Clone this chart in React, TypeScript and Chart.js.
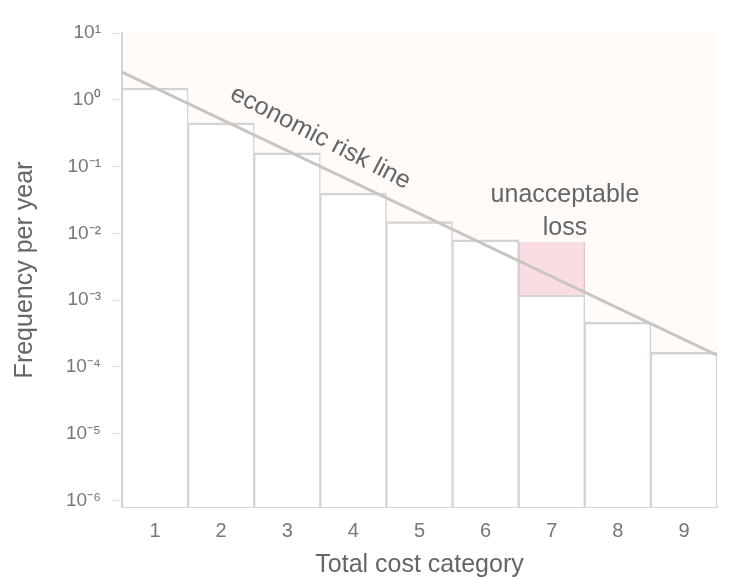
import React, { useEffect, useRef } from "react";
import { Chart, registerables } from "chart.js";

Chart.register(...registerables);

// ---- data ----
const categories = ["1", "2", "3", "4", "5", "6", "7", "8", "9"];
const frequencies = [1.5, 0.45, 0.16, 0.04, 0.015, 0.008, 0.0012, 0.00047, 0.000165];
const unacceptableLoss = [null, null, null, null, null, null, [0.0012, 0.0074], null, null];
const riskLineX = [0.5, 9.5];
const riskLineY = [2.6, 0.00015];
const yTickValues = [10, 1, 0.1, 0.01, 0.001, 0.0001, 0.00001, 0.000001];
const yTickLabels = ["10¹", "10⁰", "10⁻¹", "10⁻²", "10⁻³", "10⁻⁴", "10⁻⁵", "10⁻⁶"];
const riskLabel = "economic risk line";
const riskLabelAt = [3.5, 0.27];
const lossLabel = ["unacceptable", "loss"];
const lossLabelAt = [7.2, 0.037, 0.012];

const FONT = "'Liberation Sans', Arial, Helvetica, sans-serif";

const annotationPlugin = {
  id: "annotations",
  beforeDraw(chart: any) {
    const { ctx, chartArea: a } = chart;
    ctx.save();
    ctx.fillStyle = "#fefbf9";
    ctx.fillRect(a.left, a.top, a.right - a.left, a.bottom - a.top);
    ctx.restore();
  },
  afterDatasetsDraw(chart: any) {
    const { ctx } = chart;
    const x2 = chart.scales.x2;
    const y = chart.scales.y;
    const p0x = x2.getPixelForValue(riskLineX[0]);
    const p0y = y.getPixelForValue(riskLineY[0]);
    const p1x = x2.getPixelForValue(riskLineX[1]);
    const p1y = y.getPixelForValue(riskLineY[1]);
    const ang = Math.atan2(p1y - p0y, p1x - p0x);
    ctx.save();
    ctx.fillStyle = "#666";
    ctx.font = `25px ${FONT}`;
    ctx.textAlign = "center";
    ctx.textBaseline = "middle";
    ctx.translate(x2.getPixelForValue(riskLabelAt[0]), y.getPixelForValue(riskLabelAt[1]));
    ctx.rotate(ang + 0.03);
    ctx.fillText(riskLabel, 0, 0);
    ctx.restore();

    ctx.save();
    ctx.fillStyle = "#666";
    ctx.font = `25px ${FONT}`;
    ctx.textAlign = "center";
    ctx.textBaseline = "middle";
    const lx = x2.getPixelForValue(lossLabelAt[0]);
    ctx.fillText(lossLabel[0], lx, y.getPixelForValue(lossLabelAt[1]));
    ctx.fillText(lossLabel[1], lx, y.getPixelForValue(lossLabelAt[2]));
    ctx.restore();
  },
};

export default function App() {
  const ref = useRef<HTMLCanvasElement | null>(null);
  useEffect(() => {
    if (!ref.current) return;
    const chart = new Chart(ref.current, {
      type: "bar",
      data: {
        labels: categories,
        datasets: [
          {
            type: "line",
            data: riskLineX.map((x, i) => ({ x, y: riskLineY[i] })),
            xAxisID: "x2",
            yAxisID: "y",
            borderColor: "#c9c5c3",
            borderWidth: 3,
            pointRadius: 0,
            order: 0,
          } as any,
          {
            type: "bar",
            data: unacceptableLoss as any,
            backgroundColor: "#f9dde2",
            borderColor: "#dcc9cb",
            borderWidth: { left: 1.5, right: 1.5, top: 0, bottom: 0 },
            borderSkipped: false,
            grouped: false,
            barPercentage: 1,
            categoryPercentage: 1,
            xAxisID: "x",
            order: 1,
          } as any,
          {
            type: "bar",
            data: frequencies,
            backgroundColor: "#ffffff",
            borderColor: "#d6d2cf",
            borderWidth: { left: 1.5, right: 1.5, top: 2.5, bottom: 0 },
            grouped: false,
            barPercentage: 1,
            categoryPercentage: 1,
            xAxisID: "x",
            order: 2,
          } as any,
        ],
      },
      options: {
        animation: false,
        responsive: true,
        maintainAspectRatio: false,
        layout: { padding: { top: 33, right: 12, bottom: 0, left: 0 } },
        plugins: { legend: { display: false }, tooltip: { enabled: false } },
        scales: {
          x: {
            type: "category",
            offset: true,
            grid: { display: false, drawTicks: false },
            border: { display: true, color: "#d8d4d0", width: 2 },
            ticks: { color: "#777", font: { family: FONT, size: 20 }, padding: 12 },
            title: {
              display: true,
              text: "Total cost category",
              color: "#666",
              font: { family: FONT, size: 25 },
              padding: { top: 0, bottom: 0 },
            },
            afterFit: (s: any) => {
              s.height = 73;
            },
          },
          x2: {
            type: "linear",
            display: false,
            offset: false,
            min: riskLineX[0],
            max: riskLineX[1],
          },
          y: {
            type: "logarithmic",
            min: 8e-7,
            max: 10,
            grid: { drawOnChartArea: false, drawTicks: true, tickLength: 9, color: "#ddd" },
            border: { display: true, color: "#d8d4d0", width: 2 },
            ticks: {
              color: "#777",
              font: { family: FONT, size: 19 },
              padding: 12,
              autoSkip: false,
              callback: (v: any) => {
                const i = yTickValues.findIndex((t) => Math.abs(Math.log10(t) - Math.log10(v)) < 1e-6);
                return i >= 0 ? yTickLabels[i] : "";
              },
            },
            afterBuildTicks: (s: any) => {
              s.ticks = yTickValues.map((v) => ({ value: v }));
            },
            title: {
              display: true,
              text: "Frequency per year",
              color: "#666",
              font: { family: FONT, size: 25 },
              padding: { top: 10, bottom: 0 },
            },
            afterFit: (s: any) => {
              s.width = 122;
            },
          },
        },
      },
      plugins: [annotationPlugin],
    });
    return () => chart.destroy();
  }, []);
  return (
    <div style={{ position: "absolute", left: 0, top: 0, width: 729, height: 580, background: "#fff" }}>
      <canvas ref={ref} />
    </div>
  );
}
